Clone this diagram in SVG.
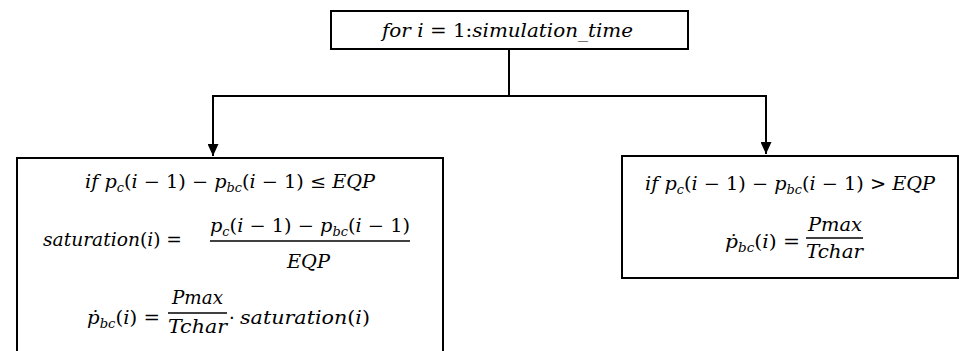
<svg xmlns="http://www.w3.org/2000/svg" width="960" height="351" viewBox="0 0 960 351">
<style>
text{font-family:'DejaVu Serif','Liberation Serif',serif;font-size:18px;fill:#000}
.i{font-style:italic}
.s{font-style:italic;font-size:12px}
.box{fill:#fff;stroke:#000;stroke-width:2}
.ln{fill:none;stroke:#000;stroke-width:2}
.fr{stroke:#000;stroke-width:1.3}
</style>
<defs>
<marker id="ah" viewBox="0 0 12 11" refX="12" refY="5.5" markerWidth="12" markerHeight="11" markerUnits="userSpaceOnUse" orient="auto">
<path d="M0,0 L12,5.5 L0,11 Z" fill="#000"/>
</marker>
</defs>
<rect width="960" height="351" fill="#fff"/>
<g id="connectors">
<path class="ln" d="M509,49 V96"/>
<path class="ln" d="M509,96 H213 V156" marker-end="url(#ah)"/>
<path class="ln" d="M509,96 H766 V154" marker-end="url(#ah)"/>
</g>
<g id="loop">
<rect class="box" x="331" y="11" width="357" height="38"/>
<text x="382" y="37" textLength="251" lengthAdjust="spacingAndGlyphs"><tspan class="i">for i</tspan> = 1:<tspan class="i">simulation_time</tspan></text>
</g>
<g id="case-le">
<path class="box" d="M17,360 V158 H443 V360"/>
<text x="85" y="188" textLength="290" lengthAdjust="spacingAndGlyphs"><tspan class="i">if p</tspan><tspan class="s" dy="4">c</tspan><tspan dy="-4">(</tspan><tspan class="i">i</tspan> − 1) − <tspan class="i">p</tspan><tspan class="s" dy="4">bc</tspan><tspan dy="-4">(</tspan><tspan class="i">i</tspan> − 1) ≤ <tspan class="i">EQP</tspan></text>
<text x="43" y="246" textLength="139" lengthAdjust="spacingAndGlyphs"><tspan class="i">saturation</tspan>(<tspan class="i">i</tspan>) =</text>
<text x="210" y="232" textLength="200" lengthAdjust="spacingAndGlyphs"><tspan class="i">p</tspan><tspan class="s" dy="4">c</tspan><tspan dy="-4">(</tspan><tspan class="i">i</tspan> − 1) − <tspan class="i">p</tspan><tspan class="s" dy="4">bc</tspan><tspan dy="-4">(</tspan><tspan class="i">i</tspan> − 1)</text>
<line class="fr" x1="210" y1="241" x2="410" y2="241"/>
<text class="i" x="287" y="268" textLength="43" lengthAdjust="spacingAndGlyphs">EQP</text>
<text x="87" y="324" textLength="73" lengthAdjust="spacingAndGlyphs"><tspan class="i">ṗ</tspan><tspan class="s" dy="4">bc</tspan><tspan dy="-4">(</tspan><tspan class="i">i</tspan>) =</text>
<text class="i" x="172" y="304" textLength="51" lengthAdjust="spacingAndGlyphs">Pmax</text>
<line class="fr" x1="168" y1="313" x2="227" y2="313"/>
<text class="i" x="168" y="333" textLength="59" lengthAdjust="spacingAndGlyphs">Tchar</text>
<text x="229" y="324">·</text>
<text x="240" y="324" textLength="130" lengthAdjust="spacingAndGlyphs"><tspan class="i">saturation</tspan>(<tspan class="i">i</tspan>)</text>
</g>
<g id="case-gt">
<rect class="box" x="622" y="156" width="336" height="122"/>
<text x="645" y="190" textLength="290" lengthAdjust="spacingAndGlyphs"><tspan class="i">if p</tspan><tspan class="s" dy="4">c</tspan><tspan dy="-4">(</tspan><tspan class="i">i</tspan> − 1) − <tspan class="i">p</tspan><tspan class="s" dy="4">bc</tspan><tspan dy="-4">(</tspan><tspan class="i">i</tspan> − 1) &gt; <tspan class="i">EQP</tspan></text>
<text x="725" y="248" textLength="75" lengthAdjust="spacingAndGlyphs"><tspan class="i">ṗ</tspan><tspan class="s" dy="4">bc</tspan><tspan dy="-4">(</tspan><tspan class="i">i</tspan>) =</text>
<text class="i" x="808" y="231" textLength="54" lengthAdjust="spacingAndGlyphs">Pmax</text>
<line class="fr" x1="806" y1="238" x2="863" y2="238"/>
<text class="i" x="806" y="258" textLength="57" lengthAdjust="spacingAndGlyphs">Tchar</text>
</g>
</svg>
